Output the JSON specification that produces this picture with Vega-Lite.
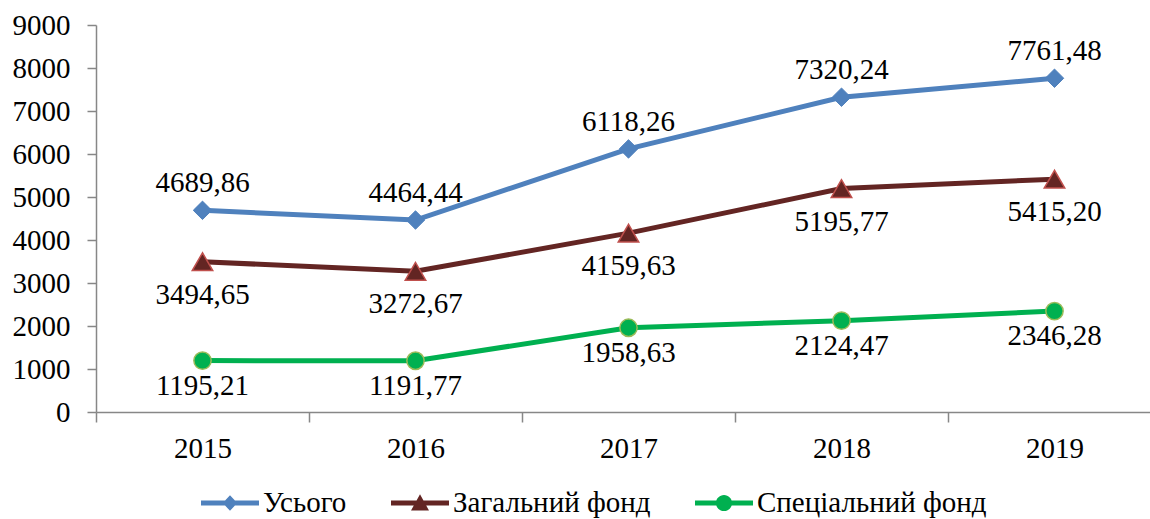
{
  "$schema": "https://vega.github.io/schema/vega-lite/v6.json",
  "width": 1065,
  "height": 387,
  "autosize": {"type": "none"},
  "padding": {"left": 96, "top": 25, "right": 0, "bottom": 107},
  "background": "white",
  "config": {
    "view": {"stroke": null},
    "font": "Liberation Serif",
    "locale": {"number": {"decimal": ",", "thousands": " ", "grouping": [3], "currency": ["", ""]}},
    "text": {"font": "Liberation Serif"},
    "axis": {
      "labelFont": "Liberation Serif",
      "labelFontSize": 29,
      "labelColor": "black",
      "domainColor": "#878787",
      "tickColor": "#878787",
      "domainWidth": 1.5,
      "tickWidth": 1.5,
      "grid": false,
      "title": null
    },
    "legend": {
      "orient": "none",
      "legendX": 105,
      "legendY": 449,
      "direction": "horizontal",
      "padding": 0,
      "symbolSize": 3364,
      "symbolOpacity": 1,
      "symbolStrokeWidth": 0,
      "labelFont": "Liberation Serif",
      "labelFontSize": 29,
      "labelColor": "black",
      "labelOffset": 4,
      "labelLimit": 0,
      "columnPadding": 44,
      "title": null
    }
  },
  "data": {
    "values": [
      {"year": "2015", "series": "Усього", "value": 4689.86},
      {"year": "2016", "series": "Усього", "value": 4464.44},
      {"year": "2017", "series": "Усього", "value": 6118.26},
      {"year": "2018", "series": "Усього", "value": 7320.24},
      {"year": "2019", "series": "Усього", "value": 7761.48},
      {"year": "2015", "series": "Загальний фонд", "value": 3494.65},
      {"year": "2016", "series": "Загальний фонд", "value": 3272.67},
      {"year": "2017", "series": "Загальний фонд", "value": 4159.63},
      {"year": "2018", "series": "Загальний фонд", "value": 5195.77},
      {"year": "2019", "series": "Загальний фонд", "value": 5415.20},
      {"year": "2015", "series": "Спеціальний фонд", "value": 1195.21},
      {"year": "2016", "series": "Спеціальний фонд", "value": 1191.77},
      {"year": "2017", "series": "Спеціальний фонд", "value": 1958.63},
      {"year": "2018", "series": "Спеціальний фонд", "value": 2124.47},
      {"year": "2019", "series": "Спеціальний фонд", "value": 2346.28}
    ]
  },
  "encoding": {
    "x": {
      "field": "year",
      "type": "ordinal",
      "scale": {"type": "band", "paddingInner": 0, "paddingOuter": 0},
      "axis": {"labelAngle": 0, "tickBand": "extent", "tickSize": 10, "labelPadding": 12}
    },
    "y": {
      "field": "value",
      "type": "quantitative",
      "scale": {"domain": [0, 9000], "nice": false},
      "axis": {"values": [0, 1000, 2000, 3000, 4000, 5000, 6000, 7000, 8000, 9000], "format": "d", "tickSize": 9, "labelPadding": 17}
    }
  },
  "layer": [
    {
      "mark": {"type": "point", "filled": true, "opacity": 0},
      "encoding": {
        "shape": {
          "field": "series",
          "type": "nominal",
          "scale": {
            "domain": ["Усього", "Загальний фонд", "Спеціальний фонд"],
            "range": [
              "M-1,-0.09L1,-0.09L1,0.09L-1,0.09Z M0,-0.27L0.25,0L0,0.27L-0.25,0Z",
              "M-1,-0.09L1,-0.09L1,0.09L-1,0.09Z M0,-0.3L0.31,0.26L-0.31,0.26Z",
              "M-1,-0.09L1,-0.09L1,0.09L-1,0.09Z M-0.28,0A0.28,0.28 0 1,1 0.28,0A0.28,0.28 0 1,1 -0.28,0Z"
            ]
          }
        },
        "color": {
          "field": "series",
          "type": "nominal",
          "scale": {"domain": ["Усього", "Загальний фонд", "Спеціальний фонд"], "range": ["#4F81BD", "#632523", "#00B050"]}
        }
      }
    },
    {
      "mark": {"type": "line", "strokeWidth": 5},
      "encoding": {
        "color": {"field": "series", "type": "nominal"}
      }
    },
    {
      "transform": [{"filter": "datum.series === 'Усього'"}],
      "mark": {"type": "point", "shape": "diamond", "size": 340, "filled": true, "fill": "#4F81BD", "stroke": "#4F81BD", "strokeWidth": 1, "opacity": 1}
    },
    {
      "transform": [{"filter": "datum.series === 'Загальний фонд'"}],
      "mark": {"type": "point", "shape": "triangle-up", "size": 420, "filled": true, "fill": "#632523", "stroke": "#C0504D", "strokeWidth": 1.5, "opacity": 1}
    },
    {
      "transform": [{"filter": "datum.series === 'Спеціальний фонд'"}],
      "mark": {"type": "point", "shape": "circle", "size": 300, "filled": true, "fill": "#00B050", "stroke": "#9BBB59", "strokeWidth": 1.5, "opacity": 1}
    },
    {
      "transform": [{"filter": "datum.series === 'Усього'"}],
      "mark": {"type": "text", "dy": -27, "fontSize": 29, "font": "Liberation Serif", "color": "black", "baseline": "middle"},
      "encoding": {"text": {"field": "value", "type": "quantitative", "format": ".2f"}}
    },
    {
      "transform": [{"filter": "datum.series === 'Загальний фонд'"}],
      "mark": {"type": "text", "dy": 33, "fontSize": 29, "font": "Liberation Serif", "color": "black", "baseline": "middle"},
      "encoding": {"text": {"field": "value", "type": "quantitative", "format": ".2f"}}
    },
    {
      "transform": [{"filter": "datum.series === 'Спеціальний фонд'"}],
      "mark": {"type": "text", "dy": 25, "fontSize": 29, "font": "Liberation Serif", "color": "black", "baseline": "middle"},
      "encoding": {"text": {"field": "value", "type": "quantitative", "format": ".2f"}}
    }
  ]
}
